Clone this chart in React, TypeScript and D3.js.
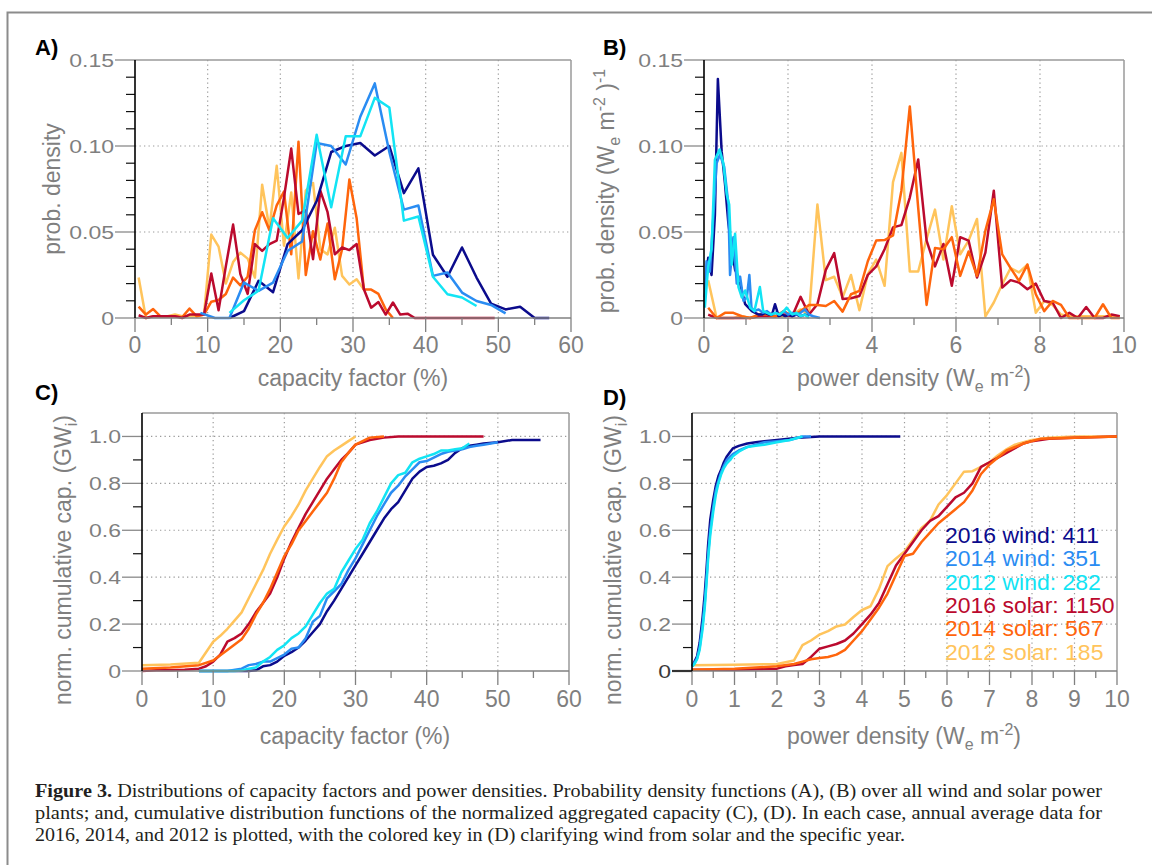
import React from "react";
import * as d3 from "d3";

const FONT = "'Liberation Sans', Arial, Helvetica, sans-serif";
const SERIF = "'Liberation Serif', 'Times New Roman', serif";
const GRAY = "#7f7f7f";

const COLORS = ["#0b0b8c", "#2a8cf2", "#12e4f4", "#bb0a2e", "#ff650c", "#ffc45c"];
const LEGEND_NAMES = ["2016 wind", "2014 wind", "2012 wind", "2016 solar", "2014 solar", "2012 solar"];
const LEGEND_COUNTS = [411, 351, 282, 1150, 567, 185];

// ---- panel A: pdf of capacity factor (%)
const aWindX = [9, 11, 13, 15, 17, 19, 21, 23, 25, 27, 29, 31, 33, 35, 37, 39, 41, 43, 45, 47, 49, 51, 53, 55, 57];
const aWind2016 = [null, null, 0, 0.004, 0.0216, 0.015, 0.043, 0.051, 0.068, 0.0965, 0.1, 0.1017, 0.0945, 0.1, 0.0726, 0.087, 0.0368, 0.024, 0.041, 0.0235, 0.0084, 0.005, 0.0066, 0, 0];
const aWind2014 = [0.003, 0, 0, 0.0206, 0.0158, 0.0206, 0.039, 0.0445, 0.1017, 0.1, 0.0893, 0.117, 0.1364, 0.0965, 0.063, 0.0654, 0.0245, 0.0265, 0.0148, 0.0099, 0.0076, 0.0027, null, null, null];
const aWind2012 = [null, null, 0.003, 0.0103, 0.0158, 0.058, 0.0465, 0.0566, 0.1066, 0.0644, 0.1056, 0.1056, 0.128, 0.1224, 0.0566, 0.059, 0.024, 0.0138, 0.0119, 0.007, null, null, null, null, null];

const aSolarX = d3.range(0.5, 50, 1);
const aSolar2016 = [0.0016, 0, 0.001, 0.001, 0.001, 0.001, 0, 0.002, 0.002, 0.002,
  0.0259, 0.0045, 0.03, 0.0543, 0.0255, 0.014, 0.043, 0.039, 0.043, 0.045,
  0.07, 0.0985, 0.0605, 0.0625, 0.0342, 0.074, 0.0615, 0.037, 0.041, 0.0395,
  0.043, 0.0167, 0.006, 0.0093, 0.002, 0.009, 0.002, 0.0025, 0, 0,
  0, 0, 0, 0, 0, 0, 0, 0, 0, 0];
const aSolar2014 = [0.0066, 0.002, 0.0052, 0.001, 0.001, 0.001, 0.0005, 0.0055, 0.001, 0.002,
  0.0095, 0.0105, 0.014, 0.0235, 0.019, 0.024, 0.051, 0.0615, 0.051, 0.0655,
  0.0735, 0.037, 0.1025, 0.025, 0.0505, 0.034, 0.055, 0.0225, 0.04, 0.0805,
  0.058, 0.0165, 0.0165, 0.014, 0.005, 0, null, null, null, null,
  null, null, null, null, null, null, null, null, null, null];
const aSolar2012 = [0.0235, 0, 0.001, 0.001, 0.001, 0.002, 0.001, 0.001, 0.001, 0.002,
  0.0485, 0.0415, 0.02, 0.0325, 0.038, 0.0345, 0.0235, 0.0775, 0.052, 0.0885,
  0.042, 0.073, 0.023, 0.074, 0.0785, 0.04, 0.037, 0.0525, 0.0245, 0.0195,
  0.0225, 0.0165, null, null, null, null, null, null, null, null,
  null, null, null, null, null, null, null, null, null, null];

// ---- panel B: pdf of power density
const bWind2016X = [0.02, 0.1, 0.18, 0.26, 0.33, 0.42, 0.5, 0.58, 0.66, 0.74, 0.82, 0.9, 0.98, 1.06, 1.14, 1.22, 1.3, 1.38, 1.46, 1.54, 1.62, 1.69, 1.78, 1.86, 1.94, 2.02, 2.1, 2.2, 2.3, 2.4, 2.5];
const bWind2016 = [0.012, 0.035, 0.025, 0.06, 0.139, 0.097, 0.078, 0.055, 0.04, 0.028, 0.024, 0.016, 0.008, 0.006, 0.004, 0.003, 0.002, 0.002, 0.003, 0.002, 0.002, 0.008, 0.001, 0.002, 0.001, 0.002, 0.001, 0.002, 0.001, 0.002, 0.001];
const bWind2014X = [0.02, 0.06, 0.14, 0.22, 0.3, 0.38, 0.48, 0.58, 0.62, 0.7, 0.78, 0.86, 0.94, 1.02, 1.08, 1.13, 1.2, 1.3, 1.4, 1.5, 1.6, 1.7, 1.8, 1.9, 2.0, 2.1, 2.2, 2.3, 2.4, 2.5, 2.6, 2.76];
const bWind2014 = [0.01, 0.033, 0.027, 0.058, 0.09, 0.095, 0.088, 0.066, 0.025, 0.047, 0.02, 0.024, 0.01, 0.012, 0.025, 0.006, 0.004, 0.005, 0.003, 0.004, 0.002, 0.003, 0.002, 0.004, 0.002, 0.003, 0.002, 0.003, 0.005, 0.002, 0.001, 0];
const bWind2012X = [0.02, 0.1, 0.18, 0.26, 0.37, 0.46, 0.54, 0.6, 0.66, 0.74, 0.82, 0.9, 0.98, 1.1, 1.2, 1.33, 1.41, 1.5, 1.6, 1.7, 1.8, 1.9, 1.97, 2.1, 2.2, 2.3, 2.4, 2.5];
const bWind2012 = [0.006, 0.03, 0.04, 0.092, 0.098, 0.09, 0.072, 0.066, 0.031, 0.049, 0.018, 0.012, 0.016, 0.006, 0.004, 0.018, 0.004, 0.003, 0.002, 0.003, 0.002, 0.004, 0.006, 0.002, 0.003, 0.001, 0.002, 0];

const bSolarX = d3.range(0.1, 10, 0.2);
const bSolar2016 = [0.002, 0, 0, 0, 0, 0, 0.001, 0.001, 0.001, 0.002,
  0.001, 0.0123, 0.002, 0.008, 0.028, 0.0377, 0.011, 0.0115, 0.0128, 0.025,
  0.03, 0.04, 0.0527, 0.054, 0.07, 0.0922, 0.045, 0.03, 0.043, 0.0187,
  0.047, 0.045, 0.0235, 0.038, 0.074, 0.0177, 0.022, 0.0206, 0.0167, 0.02,
  0.0099, 0.009, 0, 0.003, 0, 0.0064, 0, 0, 0.002, 0.001];
const bSolar2014 = [0.006, 0, 0.003, 0.003, 0.001, 0, 0.002, 0.002, 0.001, 0.004,
  0.001, 0.004, 0.0076, 0.0075, 0.007, 0.0099, 0.0037, 0.0138, 0.0158, 0.033,
  0.045, 0.0453, 0.048, 0.074, 0.123, 0.064, 0.0076, 0.0407, 0.04, 0.047,
  0.0245, 0.0387, 0.0245, 0.0508, 0.069, 0.037, 0.029, 0.0216, 0.031, 0.0138,
  0.004, 0.0099, 0.0076, 0, 0, 0, 0, 0.008, 0, 0];
const bSolar2012 = [0.022, 0, 0, 0, 0.001, 0, 0.001, 0.002, 0.001, 0.001,
  0.002, 0.005, 0.002, 0.066, 0.022, 0.024, 0.012, 0.025, 0.0045, 0.0255,
  0.034, 0.0187, 0.079, 0.096, 0.027, 0.027, 0.046, 0.063, 0.034, 0.065,
  0.037, 0.045, 0.0576, 0.001, 0.009, 0.0196, 0.029, 0.0265, 0.031, 0.003,
  0.0099, 0.0076, 0.002, 0.001, 0.001, 0.001, 0.001, 0.001, 0.001, 0.001];

// ---- panel C: cumulative vs capacity factor
const cWind2016X = [8, 13, 14, 15, 16, 17, 18, 19, 20, 21, 22, 23, 24, 25, 26, 27, 28, 29, 30, 31, 32, 33, 34, 35, 36, 37, 38, 39, 40, 41, 42, 43, 44, 45, 46, 47, 48, 50, 52, 56];
const cWind2016 = [0, 0, 0, 0, 0.003, 0.02, 0.025, 0.04, 0.065, 0.08, 0.1, 0.13, 0.165, 0.2, 0.255, 0.3, 0.35, 0.4, 0.45, 0.5, 0.55, 0.6, 0.65, 0.69, 0.72, 0.77, 0.82, 0.85, 0.87, 0.875, 0.885, 0.9, 0.93, 0.95, 0.96, 0.965, 0.97, 0.975, 0.985, 0.985];
const cWind2014X = [8, 12, 14, 15, 16, 17, 18, 19, 20, 21, 22, 23, 24, 25, 26, 27, 28, 29, 30, 31, 32, 33, 34, 35, 36, 37, 38, 39, 40, 41, 42, 43, 44, 45, 46, 47, 48, 50];
const cWind2014 = [0, 0, 0.01, 0.025, 0.03, 0.04, 0.04, 0.055, 0.07, 0.095, 0.1, 0.14, 0.21, 0.235, 0.31, 0.34, 0.37, 0.43, 0.48, 0.54, 0.6, 0.66, 0.71, 0.76, 0.79, 0.83, 0.86, 0.89, 0.895, 0.91, 0.925, 0.935, 0.94, 0.945, 0.955, 0.96, 0.965, 0.975];
const cWind2012X = [8, 13, 14, 15, 16, 17, 18, 19, 20, 21, 22, 23, 24, 25, 26, 27, 28, 29, 30, 31, 32, 33, 34, 35, 36, 37, 38, 39, 40, 41, 42, 43, 44, 45, 46];
const cWind2012 = [0, 0, 0.002, 0.01, 0.015, 0.04, 0.06, 0.09, 0.11, 0.14, 0.16, 0.19, 0.24, 0.29, 0.33, 0.35, 0.42, 0.47, 0.52, 0.56, 0.63, 0.68, 0.74, 0.8, 0.835, 0.845, 0.89, 0.905, 0.915, 0.925, 0.94, 0.94, 0.945, 0.95, 0.97];

const cSolar2016X = [0, 2, 4, 6, 8, 9, 10, 11, 12, 13, 14, 15, 16, 17, 18, 19, 20, 21, 22, 23, 24, 25, 26, 27, 28, 29, 30, 31, 32, 34, 36, 40, 44, 48];
const cSolar2016 = [0, 0.003, 0.003, 0.005, 0.01, 0.02, 0.04, 0.07, 0.125, 0.14, 0.16, 0.2, 0.25, 0.29, 0.33, 0.4, 0.48, 0.55, 0.61, 0.67, 0.72, 0.77, 0.82, 0.86, 0.9, 0.93, 0.965, 0.975, 0.985, 0.995, 1, 1, 1, 1];
const cSolar2014X = [0, 4, 8, 10, 12, 14, 15, 16, 17, 18, 19, 20, 21, 22, 23, 24, 25, 26, 27, 28, 29, 30, 31, 32, 34];
const cSolar2014 = [0.01, 0.015, 0.025, 0.045, 0.09, 0.135, 0.18, 0.24, 0.29, 0.35, 0.42, 0.49, 0.54, 0.6, 0.64, 0.68, 0.72, 0.76, 0.82, 0.89, 0.93, 0.965, 0.98, 0.995, 1];
const cSolar2012X = [0, 4, 8, 9, 10, 11, 12, 13, 14, 15, 16, 17, 18, 19, 20, 21, 22, 23, 24, 25, 26, 27, 28, 29, 30];
const cSolar2012 = [0.025, 0.028, 0.035, 0.08, 0.125, 0.15, 0.18, 0.215, 0.25, 0.31, 0.37, 0.43, 0.5, 0.56, 0.617, 0.66, 0.71, 0.77, 0.82, 0.87, 0.916, 0.94, 0.96, 0.98, 1];

// ---- panel D: cumulative vs power density
const dWind2016X = [0, 0.06, 0.12, 0.18, 0.25, 0.3, 0.34, 0.38, 0.43, 0.5, 0.56, 0.62, 0.69, 0.75, 0.82, 0.9, 0.96, 1.1, 1.3, 1.5, 1.7, 2.0, 2.5, 3.0, 4.9];
const dWind2016 = [0.02, 0.04, 0.063, 0.12, 0.23, 0.33, 0.43, 0.54, 0.646, 0.73, 0.79, 0.83, 0.86, 0.89, 0.915, 0.935, 0.949, 0.96, 0.97, 0.975, 0.98, 0.985, 0.995, 1, 1];
const dWind2014X = [0, 0.06, 0.12, 0.18, 0.25, 0.3, 0.34, 0.38, 0.43, 0.5, 0.56, 0.62, 0.69, 0.75, 0.82, 0.9, 0.96, 1.1, 1.3, 1.5, 1.7, 2.0, 2.3, 2.6, 2.8];
const dWind2014 = [0.02, 0.035, 0.055, 0.1, 0.2, 0.29, 0.39, 0.5, 0.6, 0.7, 0.77, 0.81, 0.85, 0.875, 0.9, 0.915, 0.925, 0.94, 0.955, 0.965, 0.975, 0.98, 0.985, 1, 1];
const dWind2012X = [0, 0.06, 0.12, 0.18, 0.25, 0.3, 0.34, 0.38, 0.43, 0.5, 0.56, 0.62, 0.69, 0.75, 0.82, 0.9, 0.96, 1.1, 1.3, 1.5, 1.7, 2.0, 2.3, 2.6];
const dWind2012 = [0.02, 0.03, 0.05, 0.09, 0.18, 0.27, 0.37, 0.48, 0.58, 0.68, 0.75, 0.8, 0.84, 0.865, 0.885, 0.9, 0.915, 0.935, 0.955, 0.96, 0.965, 0.975, 0.985, 1];

const dSolar2016X = [0, 1, 2, 2.2, 2.4, 2.6, 2.8, 3.0, 3.2, 3.4, 3.6, 3.8, 4.0, 4.2, 4.4, 4.6, 4.8, 5.0, 5.2, 5.4, 5.6, 5.8, 6.0, 6.2, 6.4, 6.6, 6.8, 7.0, 7.2, 7.4, 7.6, 7.8, 8.0, 8.4, 9, 10];
const dSolar2016 = [0.005, 0.005, 0.01, 0.02, 0.025, 0.03, 0.06, 0.095, 0.105, 0.115, 0.13, 0.16, 0.2, 0.24, 0.29, 0.37, 0.45, 0.5, 0.55, 0.6, 0.64, 0.66, 0.7, 0.74, 0.76, 0.8, 0.87, 0.89, 0.91, 0.93, 0.95, 0.97, 0.98, 0.99, 0.995, 1];
const dSolar2014X = [0, 1, 2, 2.4, 2.6, 2.8, 3.0, 3.2, 3.4, 3.6, 3.8, 4.0, 4.2, 4.4, 4.6, 4.8, 5.0, 5.2, 5.4, 5.6, 5.8, 6.0, 6.2, 6.4, 6.6, 6.8, 7.0, 7.2, 7.4, 7.6, 7.8, 8.0, 8.2, 9, 10];
const dSolar2014 = [0.005, 0.01, 0.02, 0.03, 0.04, 0.05, 0.055, 0.06, 0.07, 0.09, 0.13, 0.17, 0.22, 0.27, 0.33, 0.41, 0.49, 0.5, 0.55, 0.59, 0.63, 0.66, 0.69, 0.72, 0.77, 0.84, 0.88, 0.91, 0.94, 0.955, 0.97, 0.98, 0.99, 0.995, 1];
const dSolar2012X = [0, 1, 2, 2.4, 2.6, 2.8, 3.0, 3.2, 3.4, 3.6, 3.8, 4.0, 4.2, 4.4, 4.6, 4.8, 5.0, 5.2, 5.4, 5.6, 5.8, 6.0, 6.2, 6.4, 6.6, 6.8, 7.0, 7.2, 7.4, 7.6, 7.8, 8.0, 8.4, 9, 10];
const dSolar2012 = [0.025, 0.027, 0.03, 0.045, 0.11, 0.13, 0.155, 0.17, 0.19, 0.198, 0.23, 0.26, 0.276, 0.35, 0.447, 0.48, 0.51, 0.56, 0.61, 0.64, 0.71, 0.75, 0.8, 0.85, 0.852, 0.87, 0.89, 0.92, 0.945, 0.965, 0.975, 0.985, 0.995, 1, 1];

// ticks
const cfTicks = [0, 10, 20, 30, 40, 50, 60];
const cfMinor = [5, 15, 25, 35, 45, 55];
const pdTicksB = [0, 2, 4, 6, 8, 10];
const pdMinorB = [1, 3, 5, 7, 9];
const pdTicksD = [0, 1, 2, 3, 4, 5, 6, 7, 8, 9, 10];
const pdMinorD = [0.5, 1.5, 2.5, 3.5, 4.5, 5.5, 6.5, 7.5, 8.5, 9.5];
const pdfTicks = [0, 0.05, 0.1, 0.15];
const pdfTickLabels = ["0", "0.05", "0.10", "0.15"];
const pdfMinor = [0.01, 0.02, 0.03, 0.04, 0.06, 0.07, 0.08, 0.09, 0.11, 0.12, 0.13, 0.14];
const cdfTicks = [0, 0.2, 0.4, 0.6, 0.8, 1.0];
const cdfTickLabels = ["0", "0.2", "0.4", "0.6", "0.8", "1.0"];
const cdfMinor = [0.1, 0.3, 0.5, 0.7, 0.9];

const CAPTION = [
  " Distributions of capacity factors and power densities. Probability density functions (A), (B) over all wind and solar power",
  "plants; and, cumulative distribution functions of the normalized aggregated capacity (C), (D). In each case, annual average data for",
  "2016, 2014, and 2012 is plotted, with the colored key in (D) clarifying wind from solar and the specific year.",
];

type Series = { x: number[]; y: (number | null)[]; color: string };

// text with an optional stretch, the source figure has squashed tick labels
function T({ x, y, sx = 1, sy = 1, rot = 0, anchor = "start", size = 23, fill = GRAY, weight = "normal", children }: any) {
  return (
    <text
      transform={`translate(${x},${y}) rotate(${rot}) scale(${sx},${sy})`}
      textAnchor={anchor}
      fontSize={size}
      fill={fill}
      fontWeight={weight}
      fontFamily={FONT}
    >
      {children}
    </text>
  );
}

function Panel(props: any) {
  const { left, right, top, bottom, xDomain, yDomain, xTicks, xMinor, yTicks, yLabels, yMinor, series, darkZero } = props;
  const x = d3.scaleLinear().domain(xDomain).range([left, right]);
  const y = d3.scaleLinear().domain(yDomain).range([bottom, top]);
  const line = d3
    .line<[number, number | null]>()
    .defined((d) => d[1] != null)
    .x((d) => x(d[0]))
    .y((d) => y(d[1] as number));

  const gridX = xTicks.filter((v: number) => v > xDomain[0] && v < xDomain[1]);
  const gridY = yTicks.filter((v: number) => v > yDomain[0] && v < yDomain[1]);

  return (
    <g>
      {gridX.map((v: number) => (
        <line key={"gx" + v} x1={x(v)} x2={x(v)} y1={top} y2={bottom} stroke="#9a9a9a" strokeWidth={1.2} strokeDasharray="1.3 3.2" />
      ))}
      {gridY.map((v: number) => (
        <line key={"gy" + v} x1={left} x2={right} y1={y(v)} y2={y(v)} stroke="#9a9a9a" strokeWidth={1.2} strokeDasharray="1.3 3.2" />
      ))}
      <line x1={left} x2={right} y1={top} y2={top} stroke="#9a9a9a" strokeWidth={1.5} />
      <line x1={right} x2={right} y1={top} y2={bottom} stroke="#9a9a9a" strokeWidth={1.5} />

      {series.map((s: Series, i: number) => (
        <path
          key={i}
          d={line(s.x.map((v, j) => [v, s.y[j]] as [number, number | null])) || ""}
          fill="none"
          stroke={s.color}
          strokeWidth={2.5}
          strokeLinejoin="round"
        />
      ))}

      <line x1={left} x2={right} y1={bottom} y2={bottom} stroke="#808080" strokeWidth={1.5} />
      {xTicks.map((v: number) => (
        <g key={"xt" + v}>
          <line x1={x(v)} x2={x(v)} y1={bottom} y2={bottom + 14} stroke="#808080" strokeWidth={1.3} />
          <T x={x(v)} y={props.xLabelY} anchor="middle">{String(v)}</T>
        </g>
      ))}
      {xMinor.map((v: number) => (
        <line key={"xm" + v} x1={x(v)} x2={x(v)} y1={bottom} y2={bottom + 7} stroke="#808080" strokeWidth={1.3} />
      ))}

      {yTicks.map((v: number, i: number) => {
        const dark = darkZero && v === 0;
        return (
          <g key={"yt" + v}>
            <line x1={left - 20} x2={left} y1={y(v)} y2={y(v)} stroke={dark ? "#333" : "#8a8a8a"} strokeWidth={dark ? 2.2 : 1.3} />
            <T x={left - 21} y={y(v) + 6.5} anchor="end" sy={0.78} fill={dark ? "#3a3a3a" : GRAY}>{yLabels[i]}</T>
          </g>
        );
      })}
      {yMinor.map((v: number) => (
        <line key={"ym" + v} x1={left - 9} x2={left} y1={y(v)} y2={y(v)} stroke="#111" strokeWidth={1.2} />
      ))}
      <line x1={left} x2={left} y1={top} y2={bottom} stroke="#000" strokeWidth={1.6} />
    </g>
  );
}

const mk = (x: number[], y: (number | null)[], c: number): Series => ({ x, y, color: COLORS[c] });

export default function App() {
  const seriesA = [
    mk(aSolarX, aSolar2012, 5), mk(aSolarX, aSolar2014, 4), mk(aSolarX, aSolar2016, 3),
    mk(aWindX, aWind2016, 0), mk(aWindX, aWind2014, 1), mk(aWindX, aWind2012, 2),
  ];
  const seriesB = [
    mk(bSolarX, bSolar2012, 5), mk(bSolarX, bSolar2016, 3), mk(bSolarX, bSolar2014, 4),
    mk(bWind2016X, bWind2016, 0), mk(bWind2014X, bWind2014, 1), mk(bWind2012X, bWind2012, 2),
  ];
  const seriesC = [
    mk(cSolar2012X, cSolar2012, 5), mk(cSolar2016X, cSolar2016, 3), mk(cSolar2014X, cSolar2014, 4),
    mk(cWind2016X, cWind2016, 0), mk(cWind2014X, cWind2014, 1), mk(cWind2012X, cWind2012, 2),
  ];
  const seriesD = [
    mk(dSolar2012X, dSolar2012, 5), mk(dSolar2016X, dSolar2016, 3), mk(dSolar2014X, dSolar2014, 4),
    mk(dWind2016X, dWind2016, 0), mk(dWind2014X, dWind2014, 1), mk(dWind2012X, dWind2012, 2),
  ];

  const sub = { fontSize: 16 };
  const pdTitle = (
    <>
      power density (W<tspan dy={6} {...sub}>e</tspan>
      <tspan dy={-6}> m</tspan>
      <tspan dy={-9} {...sub}>-2</tspan>
      <tspan dy={9}>)</tspan>
    </>
  );

  return (
    <svg width={1152} height={865} style={{ position: "absolute", left: 0, top: 0, background: "#fff" }}>
      <rect width={1152} height={865} fill="#fff" />
      <path d="M7.5,865 V12.5 H1152" fill="none" stroke="#8c8c8c" strokeWidth={2} />

      {/* A */}
      <Panel left={135} right={571} top={60} bottom={318} xDomain={[0, 60]} yDomain={[0, 0.15]}
        xTicks={cfTicks} xMinor={cfMinor} yTicks={pdfTicks} yLabels={pdfTickLabels} yMinor={pdfMinor}
        series={seriesA} xLabelY={353} />
      <T x={35} y={55} size={22} weight="bold" fill="#000">A)</T>
      <T x={353} y={386} anchor="middle">capacity factor (%)</T>
      <T x={60} y={189} rot={-90} anchor="middle">prob. density</T>

      {/* B */}
      <Panel left={704} right={1124} top={60} bottom={318} xDomain={[0, 10]} yDomain={[0, 0.15]}
        xTicks={pdTicksB} xMinor={pdMinorB} yTicks={pdfTicks} yLabels={pdfTickLabels} yMinor={pdfMinor}
        series={seriesB} xLabelY={353} />
      <T x={603} y={55} size={22} weight="bold" fill="#000">B)</T>
      <T x={914} y={386} anchor="middle">{pdTitle}</T>
      <T x={614} y={191} rot={-90} anchor="middle">
        prob. density (W<tspan dy={6} {...sub}>e</tspan>
        <tspan dy={-6}> m</tspan>
        <tspan dy={-9} {...sub}>-2</tspan>
        <tspan dy={9}> )</tspan>
        <tspan dy={-9} {...sub}>-1</tspan>
      </T>

      {/* C */}
      <Panel left={142} right={569} top={413} bottom={671} xDomain={[0, 60]} yDomain={[0, 1.1]}
        xTicks={cfTicks} xMinor={cfMinor} yTicks={cdfTicks} yLabels={cdfTickLabels} yMinor={cdfMinor}
        series={seriesC} xLabelY={707} />
      <T x={35} y={400} size={22} weight="bold" fill="#000">C)</T>
      <T x={355} y={744} anchor="middle">capacity factor (%)</T>
      <T x={71} y={560} rot={-90} anchor="middle">
        norm. cumulative cap. (GW<tspan dy={6} {...sub}>i</tspan>
        <tspan dy={-6}>)</tspan>
      </T>

      {/* D */}
      <Panel left={692} right={1117} top={413} bottom={671} xDomain={[0, 10]} yDomain={[0, 1.1]}
        xTicks={pdTicksD} xMinor={pdMinorD} yTicks={cdfTicks} yLabels={cdfTickLabels} yMinor={cdfMinor}
        series={seriesD} xLabelY={707} darkZero />
      <T x={603} y={405} size={22} weight="bold" fill="#000">D)</T>
      <T x={904} y={744} anchor="middle">{pdTitle}</T>
      <T x={621} y={560} rot={-90} anchor="middle">
        norm. cumulative cap. (GW<tspan dy={6} {...sub}>i</tspan>
        <tspan dy={-6}>)</tspan>
      </T>

      {LEGEND_NAMES.map((n, i) => (
        <T key={n} x={945} y={543 + i * 23.3} sy={0.93} fill={COLORS[i]}>
          {`${n}: ${LEGEND_COUNTS[i]}`}
        </T>
      ))}

      {/* caption */}
      {CAPTION.map((line, i) => (
        <text key={i} x={35} y={797 + i * 22} fontFamily={SERIF} fontSize={19.5} fill="#231f20"
          textLength={i === 2 ? 870 : 1067} lengthAdjust="spacingAndGlyphs">
          {i === 0 && <tspan fontWeight="bold">Figure 3.</tspan>}
          {line}
        </text>
      ))}
    </svg>
  );
}
